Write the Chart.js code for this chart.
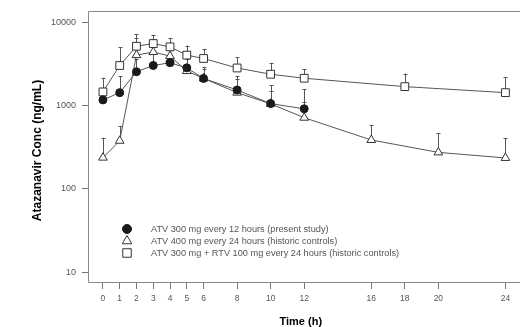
<!DOCTYPE html>
<html>
<head>
<meta charset="utf-8">
<script src="https://cdn.jsdelivr.net/npm/chart.js@4/dist/chart.umd.min.js"></script>
<style>
  html, body { margin: 0; padding: 0; background: #fff; overflow: hidden; }
  #wrap { width: 520px; height: 327px; position: relative; }
  canvas { display: block; }
</style>
</head>
<body>
<div id="wrap"><canvas id="c" width="520" height="327"></canvas></div>
<script>
// ---- data ----
const xTicks = [0, 1, 2, 3, 4, 5, 6, 8, 10, 12, 16, 18, 20, 24];
const yTicks = [10, 100, 1000, 10000];

const timesQ12 = [0, 1, 2, 3, 4, 5, 6, 8, 10, 12];
const concQ12 = [1170, 1430, 2550, 3030, 3270, 2840, 2120, 1540, 1057, 914];
const errQ12  = [1550, 2260, 3580, 4300, 4600, 3580, 2720, 2265, 1766, 1585];

const timesQ24 = [0, 1, 2, 3, 4, 5, 6, 8, 10, 12, 16, 20, 24];
const concQ24 = [237, 378, 4040, 4400, 3930, 2600, 2120, 1430, 1050, 715, 386, 274, 235];
const errQ24  = [411, 571, 6500, 6300, 5600, 3800, 2900, 2100, 1500, 1100, 588, 468, 407];

const timesRTV = [0, 1, 2, 3, 4, 5, 6, 8, 10, 12, 18, 24];
const concRTV = [1460, 3030, 5160, 5560, 5070, 4040, 3680, 2830, 2380, 2130, 1690, 1430];
const errRTV  = [2160, 5000, 7240, 7100, 6490, 5260, 4800, 3800, 3260, 2760, 2420, 2200];

const legendLabels = [
  'ATV 300 mg every 12 hours (present study)',
  'ATV 400 mg every 24 hours (historic controls)',
  'ATV 300 mg + RTV 100 mg every 24 hours (historic controls)'
];
const xTitle = 'Time (h)';
const yTitle = 'Atazanavir Conc (ng/mL)';

// ---- build datasets ----
const toPts = (xs, ys) => xs.map((x, i) => ({ x: x, y: ys[i] }));
const FONT = "'Liberation Sans', Arial, sans-serif";

const datasets = [
  {
    label: legendLabels[0], data: toPts(timesQ12, concQ12), err: errQ12,
    pointStyle: 'circle', pointRadius: 4, backgroundColor: '#1a1a1a',
    borderColor: '#555', pointBorderColor: '#1a1a1a', pointBackgroundColor: '#1a1a1a'
  },
  {
    label: legendLabels[1], data: toPts(timesQ24, concQ24), err: errQ24,
    pointStyle: 'triangle', pointRadius: 5, backgroundColor: '#fff',
    borderColor: '#555', pointBorderColor: '#333', pointBackgroundColor: '#fff'
  },
  {
    label: legendLabels[2], data: toPts(timesRTV, concRTV), err: errRTV,
    pointStyle: 'rect', pointRadius: 5.5, backgroundColor: '#fff',
    borderColor: '#555', pointBorderColor: '#333', pointBackgroundColor: '#fff'
  }
].map(d => Object.assign(d, { borderWidth: 1, pointBorderWidth: 1, fill: false, tension: 0 }));

// error bars (upper only) drawn through the scales
const errorBars = {
  id: 'errorBars',
  beforeDatasetsDraw(chart) {
    const ctx = chart.ctx, ys = chart.scales.y, xs = chart.scales.x;
    ctx.save();
    ctx.strokeStyle = '#555';
    ctx.lineWidth = 1;
    chart.data.datasets.forEach(ds => {
      ds.data.forEach((p, i) => {
        const px = Math.round(xs.getPixelForValue(p.x)) + 0.5;
        const y0 = ys.getPixelForValue(p.y);
        const y1 = ys.getPixelForValue(ds.err[i]);
        ctx.beginPath();
        ctx.moveTo(px, y0);
        ctx.lineTo(px, y1);
        ctx.moveTo(px - 2, Math.round(y1) + 0.5);
        ctx.lineTo(px + 2, Math.round(y1) + 0.5);
        ctx.stroke();
      });
    });
    ctx.restore();
  }
};

// frame (top, left, bottom), y title, legend
const frameLegend = {
  id: 'frameLegend',
  afterDraw(chart) {
    const ctx = chart.ctx, a = chart.chartArea;
    const L = Math.round(a.left) + 0.5, T = Math.round(a.top) + 0.5, B = Math.round(a.bottom) + 0.5;
    ctx.save();
    ctx.strokeStyle = '#8a8a8a';
    ctx.lineWidth = 1;
    ctx.beginPath();
    ctx.moveTo(chart.width + 5, T);
    ctx.lineTo(L, T);
    ctx.lineTo(L, B);
    ctx.lineTo(chart.width + 5, B);
    ctx.stroke();
    // y title
    ctx.save();
    ctx.translate(38, 150.5);
    ctx.rotate(-Math.PI / 2);
    ctx.fillStyle = '#000';
    ctx.font = 'bold 12px ' + FONT;
    ctx.textAlign = 'center';
    ctx.textBaseline = 'middle';
    ctx.fillText(yTitle, 0, 0);
    ctx.restore();
    // legend
    const lx = 127, ly = [229, 241, 253];
    chart.data.datasets.forEach((ds, i) => {
      ctx.strokeStyle = ds.pointBorderColor;
      ctx.fillStyle = ds.pointBackgroundColor;
      ctx.lineWidth = 1;
      Chart.helpers.drawPoint(ctx, { pointStyle: ds.pointStyle, radius: ds.pointRadius + 0.5, rotation: 0, borderWidth: 1 }, lx, ly[i]);
      ctx.fillStyle = '#555';
      ctx.font = '9.2px ' + FONT;
      ctx.textBaseline = 'middle';
      ctx.textAlign = 'left';
      ctx.fillText(ds.label, 151, ly[i]);
    });
    ctx.restore();
  }
};

new Chart(document.getElementById('c'), {
  type: 'line',
  data: { datasets: datasets },
  plugins: [errorBars, frameLegend],
  options: {
    responsive: false,
    animation: false,
    devicePixelRatio: 1,
    layout: { padding: { top: 10, right: 0, left: 0, bottom: 0 } },
    plugins: { legend: { display: false }, tooltip: { enabled: false } },
    scales: {
      x: {
        type: 'linear', min: -0.891, max: 24.48,
        afterBuildTicks: s => { s.ticks = xTicks.map(v => ({ value: v })); },
        afterFit: s => { s.height = 45; },
        border: { display: false },
        grid: { display: true, drawOnChartArea: false, tickLength: 7, color: '#777', tickWidth: 1 },
        ticks: { autoSkip: false, maxRotation: 0, padding: 5, color: '#555', font: { family: FONT, size: 8.5 },
                 callback: v => String(v) },
        title: { display: true, text: xTitle, color: '#000', font: { family: FONT, size: 11, weight: 'bold', lineHeight: 1 },
                 padding: { top: 0, bottom: 0 } }
      },
      y: {
        type: 'logarithmic', min: 7.595, max: 13537,
        afterBuildTicks: s => { s.ticks = yTicks.map(v => ({ value: v })); },
        afterFit: s => { s.width = 88; },
        border: { display: false },
        grid: { display: true, drawOnChartArea: false, tickLength: 6, color: '#777', tickWidth: 1 },
        ticks: { autoSkip: false, padding: 6, color: '#555', font: { family: FONT, size: 9 },
                 callback: v => String(v) }
      }
    }
  }
});
</script>
</body>
</html>
